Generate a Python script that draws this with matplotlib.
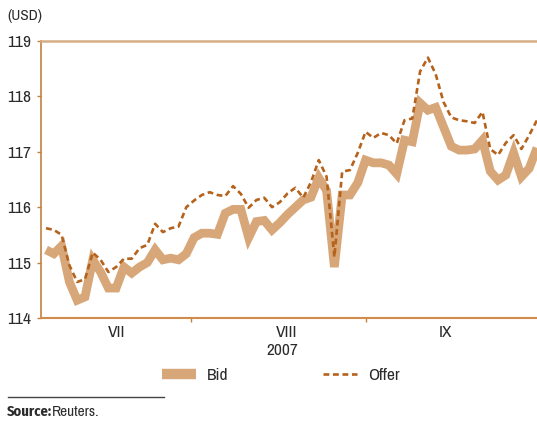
import matplotlib.pyplot as plt
from matplotlib.lines import Line2D
import numpy as np

plt.rcParams["font.family"] = ["Archivo Narrow", "DejaVu Sans"]

BID = [
    115.23, 115.16, 115.30, 114.65, 114.32, 114.38, 115.05, 114.83, 114.54, 114.54,
    114.92, 114.81, 114.92, 115.00, 115.23, 115.05, 115.08, 115.05, 115.16, 115.45,
    115.53, 115.53, 115.51, 115.89, 115.96, 115.96, 115.45, 115.74, 115.76, 115.59,
    115.72, 115.87, 116.00, 116.13, 116.18, 116.53, 116.30, 114.92, 116.22, 116.22,
    116.44, 116.85, 116.80, 116.80, 116.76, 116.60, 117.21, 117.18, 117.88, 117.75,
    117.80, 117.45, 117.10, 117.03, 117.03, 117.05, 117.21, 116.65, 116.49, 116.58,
    116.98, 116.55, 116.70, 117.07,
]
OFFER = [
    115.62, 115.59, 115.50, 114.95, 114.65, 114.70, 115.18, 115.05, 114.83, 114.92,
    115.07, 115.07, 115.26, 115.32, 115.70, 115.55, 115.62, 115.65, 116.00, 116.12,
    116.22, 116.27, 116.22, 116.20, 116.38, 116.24, 115.99, 116.13, 116.17, 116.00,
    116.09, 116.25, 116.35, 116.17, 116.45, 116.85, 116.55, 115.10, 116.64, 116.67,
    116.98, 117.36, 117.25, 117.34, 117.30, 117.15, 117.57, 117.60, 118.45, 118.70,
    118.40, 117.90, 117.62, 117.57, 117.55, 117.52, 117.72, 117.05, 116.94, 117.16,
    117.30, 117.05, 117.30, 117.57,
]
MONTHS = ["VII", "VIII", "IX"]
MONTH_CENTERS = [9.0, 30.9, 51.2]   # trading-day index of each label
MONTH_BOUNDS = [18.6, 41.1]         # month breaks
YEAR = "2007"
Y_TICKS = [114, 115, 116, 117, 118, 119]

BID_COLOR = "#d8a779"
OFFER_COLOR = "#b5621c"
SPINE_COLOR = "#c4803f"
TEXT_COLOR = "#2b2b2b"
OFFER_DASH = (0, (2.2, 1.4))

fig = plt.figure(figsize=(5.37, 4.21), dpi=100)
ax = fig.add_axes([0.0764, 0.2447, 0.9236, 0.658])

x = np.arange(len(BID))
ax.plot(x, BID, color=BID_COLOR, linewidth=6.3, solid_joinstyle="miter",
        solid_capstyle="butt")
ax.plot(x, OFFER, color=OFFER_COLOR, linewidth=1.9, linestyle=OFFER_DASH)

ax.set_xlim(-0.64, 63.0)
ax.set_ylim(114, 119)

ax.set_yticks(Y_TICKS)
ax.set_yticklabels([str(v) for v in Y_TICKS], fontsize=12.5, color=TEXT_COLOR)
ax.set_xticks(MONTH_BOUNDS)
ax.set_xticklabels([])
ax.tick_params(axis="both", direction="out", length=3, width=1, color=SPINE_COLOR,
               pad=4)

ax.spines["right"].set_visible(False)
ax.spines["top"].set_color("#d6ad85")
ax.spines["top"].set_linewidth(1.8)
ax.spines["left"].set_color(SPINE_COLOR)
ax.spines["left"].set_linewidth(1.2)
ax.spines["bottom"].set_color("#d18b4a")
ax.spines["bottom"].set_linewidth(1.5)

for label, pos in zip(MONTHS, MONTH_CENTERS):
    ax.text(pos, -0.024, label, transform=ax.get_xaxis_transform(), ha="center",
            va="top", fontsize=12.5, color=TEXT_COLOR)
ax.text(30.3, -0.092, YEAR, transform=ax.get_xaxis_transform(), ha="center",
        va="top", fontsize=12.5, color=TEXT_COLOR)

fig.text(0.013, 0.963, "(USD)", fontsize=11, color=TEXT_COLOR, va="center")

handles = [
    Line2D([], [], color=BID_COLOR, linewidth=7.5, solid_capstyle="butt"),
    Line2D([], [], color=OFFER_COLOR, linewidth=1.9, linestyle=OFFER_DASH),
]
fig.legend(handles, ["Bid", "Offer"], loc="center left",
           bbox_to_anchor=(0.285, 0.108), ncol=2, frameon=False, fontsize=12.5,
           handlelength=1.95, handletextpad=0.65, columnspacing=5.45,
           borderpad=0, labelcolor=TEXT_COLOR)

fig.add_artist(Line2D([0.015, 0.305], [0.057, 0.057], color="#444444",
                      linewidth=1.0, transform=fig.transFigure))
fig.text(0.013, 0.022, "Source:", fontsize=10.5, fontweight="bold",
         family=["Fira Sans Condensed", "DejaVu Sans"],
         color=TEXT_COLOR, va="center")
fig.text(0.096, 0.022, "Reuters.", fontsize=11, color=TEXT_COLOR, va="center")

fig.savefig("out.png", dpi=100)
